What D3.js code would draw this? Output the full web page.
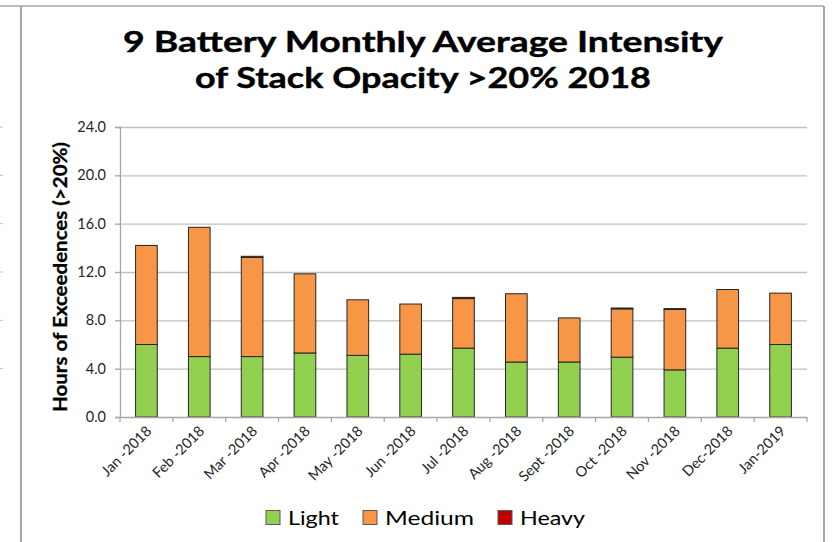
<!DOCTYPE html>
<html>
<head>
<meta charset="utf-8">
<script src="https://cdn.jsdelivr.net/npm/d3@7"></script>
<style>
  html, body { margin: 0; padding: 0; background: #fff; }
  svg { display: block; }
</style>
</head>
<body>
<svg id="chart" width="833" height="542"></svg>
<script>
const categories = ["Jan -2018", "Feb -2018", "Mar -2018", "Apr -2018", "May -2018", "Jun -2018",
  "Jul -2018", "Aug -2018", "Sept -2018", "Oct -2018", "Nov -2018", "Dec-2018", "Jan-2019"];
const light  = [6.0, 5.0, 5.0, 5.3, 5.1, 5.2, 5.7, 4.55, 4.55, 4.95, 3.9, 5.7, 6.0];
const medium = [8.2, 10.7, 8.2, 6.55, 4.6, 4.15, 4.1, 5.65, 3.65, 4.0, 5.0, 4.85, 4.25];
const heavy  = [0, 0, 0.1, 0, 0, 0, 0.1, 0, 0, 0.07, 0.07, 0, 0];
const seriesNames = ["Light", "Medium", "Heavy"];
const seriesColors = ["#92D050", "#F79646", "#C00000"];
const yTicks = [0, 4, 8, 12, 16, 20, 24];
const titleLines = ["9 Battery Monthly Average Intensity", "of Stack Opacity >20% 2018"];
const yLabel = "Hours of Exceedences (>20%)";

const svg = d3.select("#chart");
const FONT = "Lato, 'Open Sans', sans-serif";

const rows = categories.map((c, i) => ({ cat: c, Light: light[i], Medium: medium[i], Heavy: heavy[i] }));
const stacked = d3.stack().keys(seriesNames)(rows);

const plot = { left: 120, right: 807, top: 127, bottom: 417 };

const x = d3.scaleBand().domain(categories).range([plot.left, plot.right])
  .paddingInner(0.59).paddingOuter(0.295);
const y = d3.scaleLinear().domain([0, 24]).range([plot.bottom, plot.top]);
const color = d3.scaleOrdinal().domain(seriesNames).range(seriesColors);

// outer frame (chart border)
const frameColor = "#a6a6a6";
svg.append("line").attr("x1", 0).attr("x2", 824).attr("y1", 6).attr("y2", 6)
  .attr("stroke", frameColor).attr("stroke-width", 1.5);
svg.append("line").attr("x1", 21).attr("x2", 21).attr("y1", 6).attr("y2", 542)
  .attr("stroke", frameColor).attr("stroke-width", 2);
svg.append("line").attr("x1", 824).attr("x2", 824).attr("y1", 6).attr("y2", 542)
  .attr("stroke", frameColor).attr("stroke-width", 2);
// remnants of neighbouring chart at the far left
svg.append("g").selectAll("line").data(yTicks.slice(1)).join("line")
  .attr("x1", 0).attr("x2", 3).attr("y1", d => y(d)).attr("y2", d => y(d))
  .attr("stroke", "#bfbfbf").attr("stroke-width", 1);

// title
svg.append("g").selectAll("text").data(titleLines).join("text")
  .attr("x", 423).attr("y", (d, i) => 52 + i * 36)
  .attr("text-anchor", "middle")
  .attr("font-family", FONT).attr("font-weight", 700).attr("font-size", 28.5)
  .attr("fill", "#000")
  .attr("stroke", "#000").attr("stroke-width", 0.4)
  .attr("textLength", (d, i) => i === 0 ? 600 : 456)
  .attr("lengthAdjust", "spacingAndGlyphs")
  .text(d => d);

// gridlines
svg.append("g").selectAll("line").data(yTicks.slice(1)).join("line")
  .attr("x1", plot.left).attr("x2", plot.right)
  .attr("y1", d => y(d) + 0.5).attr("y2", d => y(d) + 0.5)
  .attr("stroke", "#c0c0c0").attr("stroke-width", 1.3);

// y axis
const yAxis = svg.append("g").attr("transform", `translate(${plot.left},0)`)
  .call(d3.axisLeft(y).tickValues(yTicks).tickFormat(d3.format(".1f")).tickSize(5).tickPadding(9));
yAxis.select(".domain").attr("stroke", "#a6a6a6").attr("stroke-width", 1.3);
yAxis.selectAll(".tick line").attr("stroke", "#a6a6a6").attr("stroke-width", 1.3);
yAxis.selectAll(".tick text").attr("font-family", FONT).attr("font-size", 14.5).attr("fill", "#262626");

// y label
svg.append("text")
  .attr("transform", `translate(67,277) rotate(-90)`)
  .attr("text-anchor", "middle")
  .attr("font-family", FONT).attr("font-weight", 700).attr("font-size", 18.5)
  .attr("stroke", "#000").attr("stroke-width", 0.3)
  .attr("textLength", 270).attr("lengthAdjust", "spacingAndGlyphs")
  .attr("fill", "#000")
  .text(yLabel);

// bars
const gap = (x.step() - x.bandwidth()) / 2;
svg.append("g").selectAll("g").data(stacked).join("g")
  .attr("fill", d => color(d.key))
  .selectAll("rect").data(d => d.filter(s => s[1] - s[0] > 0)).join("rect")
  .attr("x", d => x(d.data.cat))
  .attr("width", x.bandwidth())
  .attr("y", d => y(d[1]))
  .attr("height", d => y(d[0]) - y(d[1]))
  .attr("stroke", "#262626").attr("stroke-width", 1);

// x axis line + tick marks at category boundaries
const xg = svg.append("g");
xg.append("line").attr("x1", plot.left).attr("x2", plot.right)
  .attr("y1", plot.bottom + 0.5).attr("y2", plot.bottom + 0.5)
  .attr("stroke", "#a6a6a6").attr("stroke-width", 1.3);
const bounds = categories.map(c => x(c) - gap).concat([x(categories[categories.length - 1]) + x.bandwidth() + gap]);
xg.selectAll("line.tk").data(bounds).join("line").attr("class", "tk")
  .attr("x1", d => d).attr("x2", d => d)
  .attr("y1", plot.bottom).attr("y2", plot.bottom + 5)
  .attr("stroke", "#a6a6a6").attr("stroke-width", 1.3);
xg.selectAll("text").data(categories).join("text")
  .attr("transform", d => `translate(${x(d) + x.bandwidth() / 2 + 6},432) rotate(-45)`)
  .attr("text-anchor", "end")
  .attr("font-family", FONT).attr("font-size", 14.5).attr("fill", "#262626")
  .text(d => d);

// legend (text widths stretched to match the reference's wide rendering)
const legendWidths = [51, 89, 65];
const legend = svg.append("g");
let lx = 266;
seriesNames.forEach((name, i) => {
  legend.append("rect").attr("x", lx).attr("y", 510.5).attr("width", 14).attr("height", 14)
    .attr("fill", seriesColors[i]).attr("stroke", "#595959").attr("stroke-width", 1);
  legend.append("text").attr("x", lx + 22).attr("y", 524.5)
    .attr("font-family", FONT).attr("font-size", 19.5).attr("fill", "#000")
    .attr("textLength", legendWidths[i]).attr("lengthAdjust", "spacingAndGlyphs")
    .text(name);
  lx = lx + 22 + legendWidths[i] + 24;
});
</script>
</body>
</html>
